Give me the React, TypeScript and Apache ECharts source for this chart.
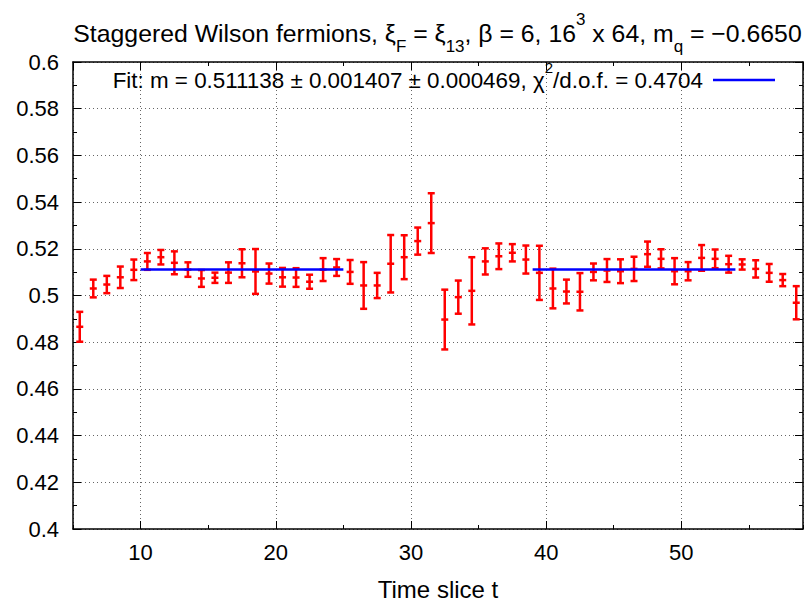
import React, { useEffect, useRef } from 'react';
import * as echarts from 'echarts';

const timeSlices = [
  5.5, 6.5, 7.5, 8.5, 9.5, 10.5, 11.5, 12.5, 13.5, 14.5,
  15.5, 16.5, 17.5, 18.5, 19.5, 20.5, 21.5, 22.5, 23.5, 24.5,
  25.5, 26.5, 27.5, 28.5, 29.5, 30.5, 31.5, 32.5, 33.5, 34.5,
  35.5, 36.5, 37.5, 38.5, 39.5, 40.5, 41.5, 42.5, 43.5, 44.5,
  45.5, 46.5, 47.5, 48.5, 49.5, 50.5, 51.5, 52.5, 53.5, 54.5,
  55.5, 56.5, 57.5, 58.5,
];

const effMass = [
  0.4866, 0.5030, 0.5047, 0.5078, 0.5110, 0.5146, 0.5164, 0.5140, 0.5111, 0.5073,
  0.5076, 0.5098, 0.5138, 0.5103, 0.5094, 0.5078, 0.5077, 0.5059, 0.5111, 0.5120,
  0.5101, 0.5043, 0.5043, 0.5136, 0.5164, 0.5233, 0.5310, 0.4897, 0.4993, 0.5020,
  0.5146, 0.5168, 0.5183, 0.5154, 0.5097, 0.5030, 0.5017, 0.5016, 0.5101, 0.5107,
  0.5104, 0.5114, 0.5177, 0.5157, 0.5104, 0.5104, 0.5161, 0.5157, 0.5134, 0.5133,
  0.5114, 0.5097, 0.5066, 0.4969,
];

const effMassErr = [
  0.0064, 0.0038, 0.0037, 0.0046, 0.0044, 0.0036, 0.0031, 0.0049, 0.0031, 0.0036,
  0.0022, 0.0044, 0.0060, 0.0096, 0.0043, 0.0040, 0.0040, 0.0030, 0.0049, 0.0036,
  0.0051, 0.0100, 0.0054, 0.0123, 0.0094, 0.0058, 0.0128, 0.0128, 0.0071, 0.0144,
  0.0056, 0.0055, 0.0037, 0.0060, 0.0116, 0.0085, 0.0051, 0.0080, 0.0036, 0.0049,
  0.0051, 0.0052, 0.0054, 0.0041, 0.0056, 0.0039, 0.0055, 0.0040, 0.0036, 0.0022,
  0.0037, 0.0038, 0.0026, 0.0071,
];

const fitMass = 0.511138;
const fitWindowA = [10, 25];
const fitWindowB = [39, 54];
const xTickLabels = [10, 20, 30, 40, 50];

const titleText =
  'Staggered Wilson fermions, ξ{sub|F} = ξ{sub|13}, β = 6, 16{sup|3} x 64, m{sub|q} = −0.6650';
const legendText =
  'Fit: m = 0.511138 ± 0.001407 ± 0.000469, χ{sup|2}/d.o.f. = 0.4704';
const xAxisName = 'Time slice t';

const FONT = '"Liberation Sans", Arial, Helvetica, sans-serif';

export default function App() {
  const ref = useRef<HTMLDivElement>(null);

  useEffect(() => {
    const chart = echarts.init(ref.current!, null, { renderer: 'svg' });
    const data = timeSlices.map((t, i) => [t, effMass[i], effMassErr[i]]);

    const lineBlack = { show: true, lineStyle: { color: '#000', width: 1.5 } };
    const tickMajor = { show: true, inside: true, length: 8, lineStyle: { color: '#000', width: 1 } };
    const tickMinor = { show: true, inside: true, length: 4, lineStyle: { color: '#000', width: 1 } };
    const dotted = { show: true, lineStyle: { color: '#666', width: 1, type: [1, 3] } };

    chart.setOption({
      animation: false,
      backgroundColor: '#fff',
      grid: { left: 73, right: 3, top: 62, bottom: 72, containLabel: false, outerBoundsMode: 'none' },
      xAxis: [
        {
          type: 'value', min: 5, max: 59, position: 'bottom',
          axisLine: lineBlack, axisTick: tickMajor,
          axisLabel: {
            fontSize: 22, color: '#000', fontFamily: FONT, margin: 12,
            showMinLabel: false, showMaxLabel: false,
            formatter: (v: number) => (xTickLabels.includes(v) ? String(v) : ''),
          },
          splitLine: dotted,
          name: xAxisName, nameLocation: 'middle', nameGap: 50,
          nameTextStyle: { fontSize: 24, color: '#000', fontFamily: FONT, lineHeight: 20 },
        },
        {
          type: 'value', min: 5, max: 59, interval: 5, position: 'bottom',
          axisLine: { show: false }, axisTick: tickMinor, axisLabel: { show: false }, splitLine: { show: false },
        },
        {
          type: 'value', min: 5, max: 59, position: 'top',
          axisLine: lineBlack, axisTick: tickMajor, axisLabel: { show: false }, splitLine: { show: false },
        },
        {
          type: 'value', min: 5, max: 59, interval: 5, position: 'top',
          axisLine: { show: false }, axisTick: tickMinor, axisLabel: { show: false }, splitLine: { show: false },
        },
      ],
      yAxis: [
        {
          type: 'value', min: 0.4, max: 0.6, interval: 0.02, position: 'left',
          axisLine: lineBlack, axisTick: tickMajor,
          minorTick: { show: true, splitNumber: 2, length: 4, lineStyle: { color: '#000', width: 1 } },
          axisLabel: { fontSize: 22, color: '#000', fontFamily: FONT, margin: 14 },
          splitLine: dotted,
        },
        {
          type: 'value', min: 0.4, max: 0.6, interval: 0.02, position: 'right',
          axisLine: lineBlack, axisTick: tickMajor,
          minorTick: { show: true, splitNumber: 2, length: 4, lineStyle: { color: '#000', width: 1 } },
          axisLabel: { show: false }, splitLine: { show: false },
        },
      ],
      series: [
        {
          type: 'custom',
          xAxisIndex: 0, yAxisIndex: 0,
          encode: { x: 0, y: 1 },
          z: 3,
          data,
          renderItem: (params: any, api: any) => {
            const x = api.value(0);
            const y = api.value(1);
            const e = api.value(2);
            const top = api.coord([x, y + e]);
            const bot = api.coord([x, y - e]);
            const mid = api.coord([x, y]);
            const hw = 3.5;
            const style = { stroke: '#ff0000', lineWidth: 2.5 };
            return {
              type: 'group',
              children: [
                { type: 'line', shape: { x1: top[0], y1: top[1], x2: bot[0], y2: bot[1] }, style },
                { type: 'line', shape: { x1: top[0] - hw, y1: top[1], x2: top[0] + hw, y2: top[1] }, style },
                { type: 'line', shape: { x1: bot[0] - hw, y1: bot[1], x2: bot[0] + hw, y2: bot[1] }, style },
                { type: 'line', shape: { x1: mid[0] - hw, y1: mid[1], x2: mid[0] + hw, y2: mid[1] }, style },
              ],
            };
          },
        },
        {
          type: 'line', xAxisIndex: 0, yAxisIndex: 0, z: 5,
          data: fitWindowA.map((t) => [t, fitMass]),
          symbol: 'none', lineStyle: { color: '#0000ff', width: 2.5 },
        },
        {
          type: 'line', xAxisIndex: 0, yAxisIndex: 0, z: 5,
          data: fitWindowB.map((t) => [t, fitMass]),
          symbol: 'none', lineStyle: { color: '#0000ff', width: 2.5 },
        },
      ],
      graphic: [
        {
          type: 'text', x: 437.5, y: 33, z: 10,
          style: {
            text: titleText, fontSize: 24.8, fontFamily: FONT, fill: '#000',
            align: 'center', verticalAlign: 'middle', lineHeight: 44,
            rich: {
              sub: { fontSize: 17, fontFamily: FONT, verticalAlign: 'bottom', lineHeight: 20 },
              sup: { fontSize: 17, fontFamily: FONT, verticalAlign: 'top', lineHeight: 20 },
            },
          },
        },
        {
          type: 'text', x: 703, y: 80, z: 10,
          style: {
            text: legendText, fontSize: 22.4, fontFamily: FONT, fill: '#000',
            align: 'right', verticalAlign: 'middle', lineHeight: 40,
            rich: { sup: { fontSize: 15, fontFamily: FONT, verticalAlign: 'top', lineHeight: 24 } },
          },
        },
        {
          type: 'line', z: 10,
          shape: { x1: 713, y1: 80, x2: 775, y2: 80 },
          style: { stroke: '#0000ff', lineWidth: 2.5 },
        },
      ],
    });
    return () => chart.dispose();
  }, []);

  return <div ref={ref} style={{ position: 'absolute', left: 0, top: 0, width: 806, height: 601 }} />;
}
